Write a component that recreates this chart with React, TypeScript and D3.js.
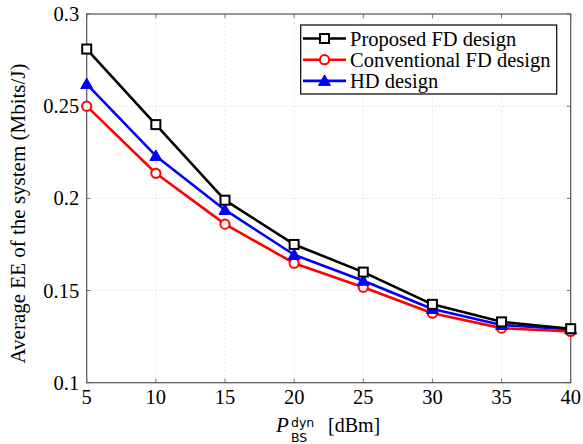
import React from "react";
import * as d3 from "d3";

const xValues = [5, 10, 15, 20, 25, 30, 35, 40];
const proposedFD = [0.281, 0.24, 0.199, 0.175, 0.16, 0.1425, 0.133, 0.1293];
const conventionalFD = [0.25, 0.2136, 0.186, 0.1648, 0.1518, 0.1377, 0.1296, 0.1278];
const hdDesign = [0.262, 0.223, 0.1937, 0.1694, 0.1553, 0.14, 0.1313, 0.129];
const xTicks = [5, 10, 15, 20, 25, 30, 35, 40];
const yTicks = [0.1, 0.15, 0.2, 0.25, 0.3];
const seriesNames = ["Proposed FD design", "Conventional FD design", "HD design"];
const seriesColors = ["#000000", "#ff0000", "#0000ff"];

const W = 583, H = 444;
const L = 86.7, R = 570.7, T = 14, B = 382.7;
const FONT = "'Liberation Serif', 'Times New Roman', serif";

function Marker({ kind, x, y, color }: { kind: number; x: number; y: number; color: string }) {
  if (kind === 0) return <rect x={x - 4.5} y={y - 4.5} width={9} height={9} fill="white" stroke={color} strokeWidth={2} />;
  if (kind === 1) return <circle cx={x} cy={y} r={4.6} fill="white" stroke={color} strokeWidth={2} />;
  const s = 6;
  return <path d={`M${x},${y - s}L${x + s},${y + s * 0.75}L${x - s},${y + s * 0.75}Z`} fill={color} stroke={color} strokeWidth={1} />;
}

export default function App() {
  const x = d3.scaleLinear().domain([5, 40]).range([L, R]);
  const y = d3.scaleLinear().domain([0.1, 0.3]).range([B, T]);
  const series = [proposedFD, conventionalFD, hdDesign];
  const line = d3.line<number>().x((_, i) => x(xValues[i])).y((d) => y(d));
  const order = [1, 2, 0];
  return (
    <svg width={W} height={H} style={{ position: "absolute", left: 0, top: 0 }} fontFamily={FONT}>
      <rect x={0} y={0} width={W} height={H} fill="white" />
      {xTicks.map((t) => (
        <line key={"gx" + t} x1={x(t)} x2={x(t)} y1={T} y2={B} stroke="#d9d9d9" strokeWidth={0.8} strokeDasharray="1.5,2.5" />
      ))}
      {yTicks.map((t) => (
        <line key={"gy" + t} x1={L} x2={R} y1={y(t)} y2={y(t)} stroke="#d9d9d9" strokeWidth={0.8} strokeDasharray="1.5,2.5" />
      ))}
      {xTicks.map((t) => (
        <g key={"tx" + t}>
          <line x1={x(t)} x2={x(t)} y1={B} y2={B - 4} stroke="#555" strokeWidth={0.8} />
          <line x1={x(t)} x2={x(t)} y1={T} y2={T + 4} stroke="#555" strokeWidth={0.8} />
          <text x={x(t)} y={B + 21} textAnchor="middle" fontSize={20.5}>{t}</text>
        </g>
      ))}
      {yTicks.map((t) => (
        <g key={"ty" + t}>
          <line x1={L} x2={L + 4} y1={y(t)} y2={y(t)} stroke="#555" strokeWidth={0.8} />
          <line x1={R} x2={R - 4} y1={y(t)} y2={y(t)} stroke="#555" strokeWidth={0.8} />
          <text x={L - 7.5} y={y(t) + 7} textAnchor="end" fontSize={20.5}>{String(t)}</text>
        </g>
      ))}
      <rect x={L} y={T} width={R - L} height={B - T} fill="none" stroke="#555" strokeWidth={1.2} />
      {order.map((k) => (
        <g key={"s" + k}>
          <path d={line(series[k]) || ""} fill="none" stroke={seriesColors[k]} strokeWidth={2.6} strokeLinejoin="round" />
          {series[k].map((v, i) => (
            <Marker key={i} kind={k} x={x(xValues[i])} y={y(v)} color={seriesColors[k]} />
          ))}
        </g>
      ))}
      <rect x={300.7} y={25} width={256} height={69} fill="white" stroke="#000" strokeWidth={1.2} />
      {seriesNames.map((n, k) => {
        const yy = 38.5 + k * 21.2;
        return (
          <g key={"lg" + k}>
            <line x1={303} x2={346} y1={yy} y2={yy} stroke={seriesColors[k]} strokeWidth={2.6} />
            <Marker kind={k} x={324.5} y={yy} color={seriesColors[k]} />
            <text x={350} y={yy + 7} fontSize={20.5}>{n}</text>
          </g>
        );
      })}
      <text transform={`translate(25,${(52 + 375) / 2}) rotate(-90)`} textAnchor="middle" fontSize={21}>
        Average EE of the system (Mbits/J)
      </text>
      <g>
        <text x={276} y={432} fontSize={21} fontStyle="italic">P</text>
        <text x={291} y={427} fontSize={12.5} fontFamily="'DejaVu Sans', sans-serif">dyn</text>
        <text x={291} y={442} fontSize={12.5} fontFamily="'DejaVu Sans', sans-serif">BS</text>
        <text x={328} y={432} fontSize={20}>[dBm]</text>
      </g>
    </svg>
  );
}
